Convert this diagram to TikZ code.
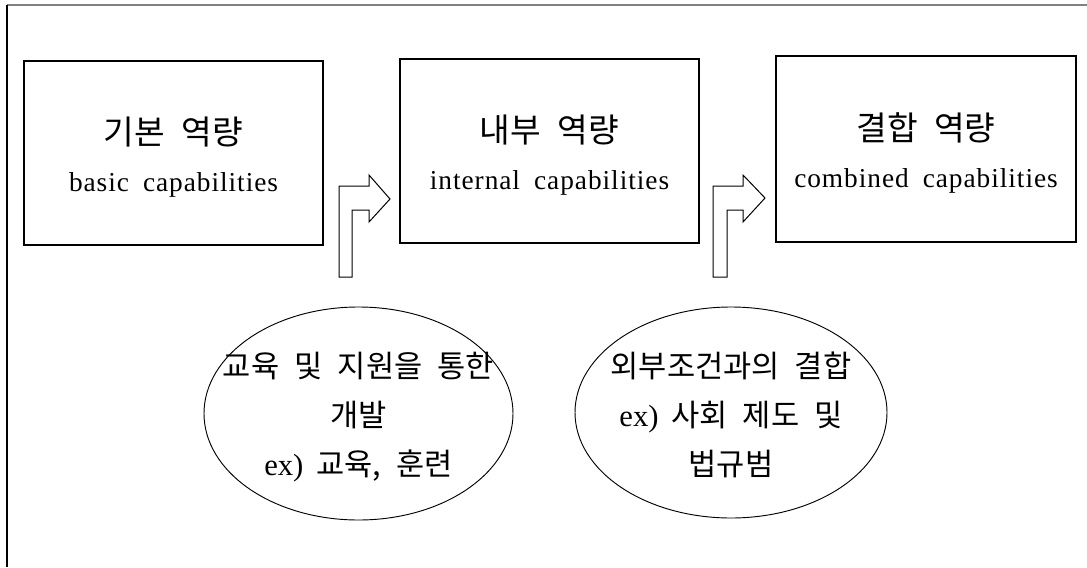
\documentclass[tikz,border=0pt]{standalone}
\usepackage{fontspec}
\setmainfont{Liberation Serif}
\newfontfamily\en[LetterSpace=3.5,WordSpace=1.8]{Liberation Serif}
\newfontfamily\kr[WordSpace=2.2]{Noto Sans CJK KR}
\usetikzlibrary{shapes.geometric}
\begin{document}
\begin{tikzpicture}[x=0.75pt,y=-0.75pt,
  capbox/.style={draw=black,line width=0.9pt,rectangle,minimum width=224.25pt,
    minimum height=138pt,align=center,inner sep=0pt,
    font=\fontsize{25}{35}\selectfont},
  captext/.style={align=center,inner sep=0pt,font=\fontsize{25}{35}\selectfont},
  oval/.style={draw=black,line width=0.7pt,ellipse,inner sep=0pt},
  ovaltext/.style={align=center,inner sep=0pt,font=\fontsize{23}{36.75}\selectfont},
  blockarrow/.style={draw=black,line width=0.75pt,fill=white,line join=miter}
]
\useasboundingbox (0,0) rectangle (1087,567);
% frame
\draw[gray,line width=1.4pt] (7,5) -- (1087,5);
\draw[black,line width=1.1pt] (7,5) -- (7,567);

% boxes
\node[capbox] (b1) at (173.5,153) {};
\node[capbox] (b2) at (549.5,151) {};
\node[capbox,minimum width=225pt,minimum height=139.5pt] (b3) at (926,149) {};
\node[captext] (c1) at ([yshift=-3pt]b1.center) {{\kr 기본 역량}\\{\en\fontsize{20.5}{35}\selectfont basic capabilities}};
\node[captext] (c2) at ([yshift=-3pt]b2.center) {{\kr 내부 역량}\\{\en\fontsize{20.5}{35}\selectfont internal capabilities}};
\node[captext] (c3) at ([yshift=-3pt]b3.center) {{\kr 결합 역량}\\{\en\fontsize{20.5}{35}\selectfont combined capabilities}};

% block arrows
\draw[blockarrow] (339,277) -- (339,186) -- (369,186) -- (369,175) -- (390,199)
  -- (369,222) -- (369,210) -- (352,210) -- (352,277) -- cycle;
\draw[blockarrow] (713,277) -- (713,186) -- (743,186) -- (743,175) -- (765,198)
  -- (743,222) -- (743,210) -- (727,210) -- (727,277) -- cycle;

% ellipses
\node[oval,minimum width=231.75pt,minimum height=159.75pt] (e1) at (358.5,413.5) {};
\node[oval,minimum width=234pt,minimum height=158.25pt] (e2) at (731,412.5) {};
\node[ovaltext] (t1) at ([yshift=-2.5pt]e1.center) {{\kr 교육 및 지원을 통한}\\{\kr 개발}\\ex)\ \,{\kr 교육, 훈련}};
\node[ovaltext] (t2) at ([yshift=-2pt]e2.center) {{\kr 외부조건과의 결합}\\ex)\ \,{\kr 사회 제도 및}\\{\kr 법규범}};
\end{tikzpicture}
\end{document}
